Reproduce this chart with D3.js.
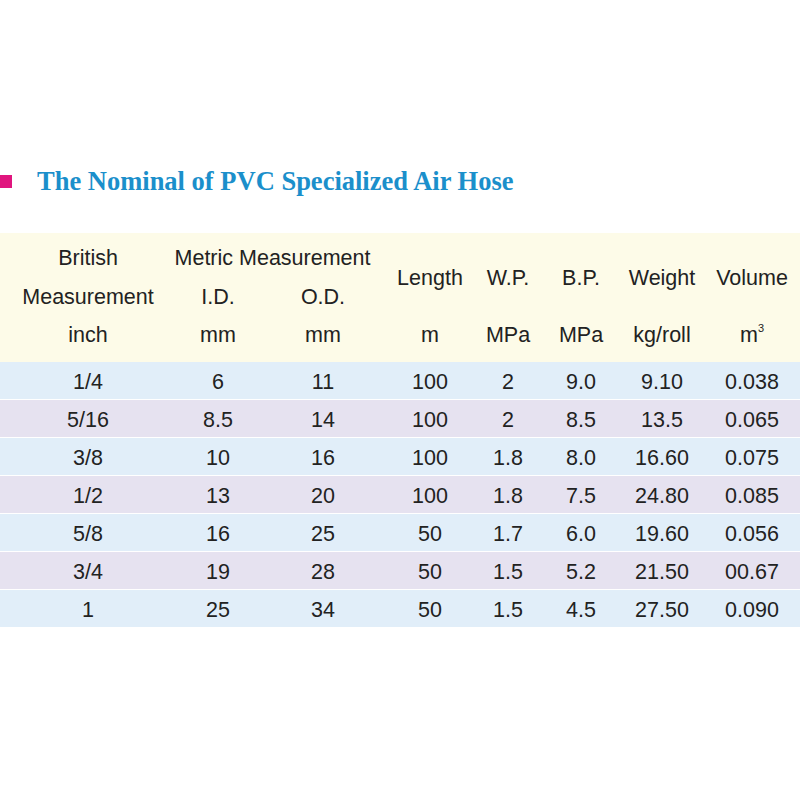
<!DOCTYPE html>
<html><head><meta charset="utf-8">
<script src="https://cdn.jsdelivr.net/npm/d3@7"></script>
<style>body{margin:0;background:#fff}</style>
</head><body><svg id="c" width="800" height="800"></svg>
<script>
const title = "The Nominal of PVC Specialized Air Hose";
const columns = ["british","id","od","length","wp","bp","weight","volume"];
const colCenters = [88,218,323,430,508,581,662,752];
const british = ["1/4","5/16","3/8","1/2","5/8","3/4","1"];
const idMM = ["6","8.5","10","13","16","19","25"];
const odMM = ["11","14","16","20","25","28","34"];
const lengthM = ["100","100","100","100","50","50","50"];
const wp = ["2","2","1.8","1.8","1.7","1.5","1.5"];
const bp = ["9.0","8.5","8.0","7.5","6.0","5.2","4.5"];
const weight = ["9.10","13.5","16.60","24.80","19.60","21.50","27.50"];
const volume = ["0.038","0.065","0.075","0.085","0.056","00.67","0.090"];
const rowColors = ["#e1eef9","#e6e2f0"];

const svg = d3.select("#c");
const x = d3.scaleOrdinal().domain(columns).range(colCenters);
const y = d3.scaleBand().domain(d3.range(british.length)).range([362,628]);
const font = "'Liberation Sans', Arial, sans-serif";
const fs = 21.5;

svg.append("rect").attr("x",0).attr("y",175).attr("width",12).attr("height",13).attr("fill","#e0157e");
svg.append("text").attr("x",37).attr("y",190).attr("font-family","'Liberation Serif','Times New Roman',serif")
  .attr("font-size",26.5).attr("font-weight","bold").attr("fill","#1b8fcb").text(title);

svg.append("rect").attr("x",0).attr("y",233).attr("width",800).attr("height",129).attr("fill","#fdfbe8");

const hdr = [
  ["British",x("british"),257],["Measurement",x("british"),296],["inch",x("british"),334],
  ["Metric Measurement",(x("id")+x("od"))/2+2,257],["I.D.",x("id"),296],["O.D.",x("od"),296],
  ["mm",x("id"),334],["mm",x("od"),334],
  ["Length",x("length"),277],["m",x("length"),334],
  ["W.P.",x("wp"),277],["MPa",x("wp"),334],
  ["B.P.",x("bp"),277],["MPa",x("bp"),334],
  ["Weight",x("weight"),277],["kg/roll",x("weight"),334],
  ["Volume",x("volume"),277]
];
svg.selectAll("text.h").data(hdr).join("text").attr("class","h")
  .attr("x",d=>d[1]).attr("y",d=>d[2]).attr("dy","0.35em").attr("text-anchor","middle")
  .attr("font-family",font).attr("font-size",fs).attr("fill","#222").text(d=>d[0]);
const m3 = svg.append("text").attr("x",x("volume")).attr("y",334).attr("dy","0.35em").attr("text-anchor","middle")
  .attr("font-family",font).attr("font-size",fs).attr("fill","#222");
m3.append("tspan").text("m");
m3.append("tspan").attr("font-size",11).attr("dy","-0.9em").text("3");

const rows = british.map((b,i)=>[b,idMM[i],odMM[i],lengthM[i],wp[i],bp[i],weight[i],volume[i]]);
svg.selectAll("rect.r").data(rows).join("rect").attr("class","r")
  .attr("x",0).attr("width",800).attr("y",(d,i)=>y(i)).attr("height",y.bandwidth()-1)
  .attr("fill",(d,i)=>rowColors[i%2]);
rows.forEach((r,i)=>{
  svg.selectAll(null).data(r).join("text")
    .attr("x",(d,j)=>x(columns[j])).attr("y",y(i)+y.bandwidth()/2).attr("dy","0.35em")
    .attr("text-anchor","middle").attr("font-family",font).attr("font-size",fs).attr("fill","#222").text(d=>d);
});
</script></body></html>
